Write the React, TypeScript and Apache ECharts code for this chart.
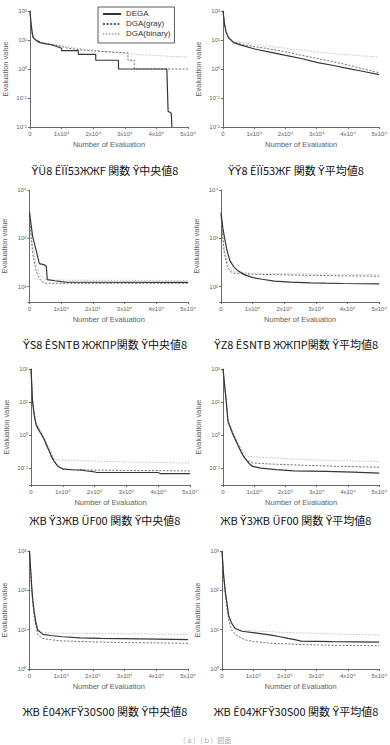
import React, { useEffect, useRef } from "react";
import * as echarts from "echarts";

// Series values: [evaluations, best evaluation value]
const SERIES_NAMES = ["DEGA", "DGA(gray)", "DGA(binary)"];

const p1Dega = [[0,100],[300,40],[700,18],[1000,12],[2000,9.5],[3200,8.1],[5000,7.4],[6300,7],[8000,6.2],[10000,5.2],[10000,4.3],[15300,4.3],[15300,3.2],[20800,3.2],[20800,2.0],[28000,2.0],[28000,1.0],[43300,1.0],[43700,0.035],[44700,0.03],[44900,0.01]];
const p1Gray = [[0,100],[300,35],[700,16],[1000,12.5],[2000,10],[4000,8],[7000,7],[10000,6],[12000,5.2],[16000,4.6],[20000,4.2],[26000,3.8],[31000,3.6],[31000,2.0],[33000,2.0],[33000,1.0],[50000,1.0]];
const p1Binary = [[0,100],[300,38],[700,17],[1000,13],[2000,10],[4000,8],[7000,7],[10000,6.2],[15000,5.2],[20000,4.5],[25000,3.9],[30000,3.4],[35000,3.1],[40000,2.9],[45000,2.7],[50000,2.6]];

const p2Dega = [[0,100],[500,35],[1000,18],[1800,11.7],[3400,8.1],[6000,6.5],[10200,4.9],[15000,3.8],[19700,3.0],[25000,2.3],[30300,1.66],[35000,1.35],[39800,1.05],[45000,0.82],[50000,0.64]];
const p2Gray = [[0,100],[500,36],[1000,19],[1800,12],[3400,8.6],[6000,7],[10200,5.9],[15000,4.9],[19700,4.0],[25000,3.0],[30300,2.3],[35000,1.8],[39800,1.4],[45000,1.0],[50000,0.74]];
const p2Binary = [[0,100],[500,37],[1000,20],[1800,12.5],[3400,9],[6000,8],[10000,7],[15000,6],[20000,5.2],[25000,4.5],[30000,3.9],[35000,3.4],[40000,3.1],[45000,2.8],[50000,2.6]];

const p3Dega = [[0,3500],[600,1700],[1000,1100],[2100,560],[3100,300],[4500,285],[5300,265],[5600,140],[8000,132],[10000,127],[12000,123],[50000,122]];
const p3Gray = [[0,3000],[500,1100],[1000,500],[2000,220],[3000,150],[4000,125],[5000,118],[8000,117],[50000,117]];
const p3Binary = [[0,3200],[500,1400],[1000,700],[2000,300],[3000,190],[4000,150],[5000,140],[8000,137],[20000,135],[50000,134]];

const p4Dega = [[0,3400],[600,1600],[1250,920],[2000,530],[2800,345],[4000,260],[5400,212],[7500,175],[10100,153],[13000,142],[16900,130],[22000,124],[28300,120],[33000,118],[38700,116],[50000,114]];
const p4Gray = [[0,3000],[500,1100],[1000,520],[2000,260],[3000,205],[4000,190],[6000,185],[10000,180],[20000,175],[30000,170],[40000,167],[50000,164]];
const p4Binary = [[0,3200],[500,1300],[1000,650],[2000,320],[3000,230],[4000,205],[6000,195],[10000,190],[20000,185],[30000,182],[40000,180],[50000,178]];

const p5Dega = [[0,100],[500,10],[1000,4],[1600,2.0],[2400,1.4],[3100,1.1],[4200,0.7],[5000,0.45],[5800,0.31],[6500,0.21],[7300,0.155],[8500,0.11],[10000,0.093],[13000,0.087],[16300,0.085],[17500,0.08],[18900,0.078],[20500,0.073],[22000,0.072],[40000,0.072],[40800,0.066],[50000,0.066]];
const p5Gray = [[0,100],[500,11],[1000,4.5],[1600,2.2],[3100,1.2],[4200,0.75],[5000,0.5],[6000,0.3],[7000,0.19],[8000,0.13],[9000,0.1],[10000,0.088],[20000,0.085],[30000,0.083],[40000,0.082],[50000,0.08]];
const p5Binary = [[0,100],[500,11.5],[1000,4.8],[1600,2.3],[3100,1.3],[4200,0.8],[5000,0.55],[6000,0.35],[7000,0.22],[7500,0.18],[10000,0.17],[20000,0.16],[30000,0.15],[40000,0.145],[50000,0.14]];

const p6Dega = [[0,100],[1050,10],[1600,2.5],[2500,1.5],[3200,1.0],[4700,0.5],[5800,0.3],[6900,0.2],[8200,0.14],[9500,0.11],[12100,0.098],[17000,0.088],[22600,0.081],[33200,0.078],[41600,0.074],[50000,0.069]];
const p6Gray = [[0,100],[1050,10.5],[1600,2.7],[3200,1.1],[4700,0.55],[6000,0.3],[7000,0.2],[8000,0.16],[9500,0.14],[15000,0.13],[25000,0.12],[35000,0.112],[50000,0.104]];
const p6Binary = [[0,100],[1050,11],[1600,2.9],[3200,1.2],[4700,0.6],[6000,0.35],[7000,0.25],[8000,0.22],[15000,0.2],[25000,0.18],[35000,0.165],[50000,0.155]];

const p7Dega = [[0,1000],[400,300],[730,112],[1000,60],[1450,29],[2000,15],[2600,9.8],[4200,7.6],[6800,7.1],[10400,6.6],[16000,6.2],[22400,6.0],[35000,5.8],[50000,5.6]];
const p7Gray = [[0,1000],[400,250],[730,90],[1450,22],[2600,7.5],[4000,6],[7000,5.5],[10000,5.2],[20000,4.9],[30000,4.7],[40000,4.6],[50000,4.5]];
const p7Binary = [[0,1000],[400,320],[730,120],[1450,32],[2600,10],[4000,8.5],[7000,8.2],[20000,8],[35000,7.8],[50000,7.6]];

const p8Dega = [[0,1000],[500,250],[1050,93],[2100,23],[3000,15],[4200,10.7],[6300,9.1],[10500,8.3],[15700,7.3],[18000,6.7],[21000,6.0],[23100,5.6],[25200,5.1],[35000,4.95],[50000,4.8]];
const p8Gray = [[0,1000],[500,220],[1050,80],[2100,18],[3000,10],[4200,7.5],[7300,5.5],[10000,5],[16000,4.5],[25000,4.2],[35000,4],[50000,3.9]];
const p8Binary = [[0,1000],[500,270],[1050,100],[2100,25],[3000,14],[4200,10.5],[6000,9.8],[12000,9.1],[20000,8.5],[30000,8],[40000,7.6],[50000,7.3]];

// Y-axis ranges per panel
const Y_MIN = [0.01, 0.01, 48, 48, 0.03, 0.03, 1, 1];
const Y_MAX = [100, 100, 10000, 10000, 100, 100, 1000, 1000];

const CAPTIONS = [
  "ŸÜ8 ÊÏÏ53ЖЖF 関数 Ÿ中央値8",
  "ŸŸ8 ÊÏÏ53ЖF 関数 Ÿ平均値8",
  "ŸS8 ÊSNTB ЖЖПP関数 Ÿ中央値8",
  "ŸZ8 ÊSNTB ЖЖПP関数 Ÿ平均値8",
  "ЖB Ÿ3ЖB ÜF00 関数 Ÿ中央値8",
  "ЖB Ÿ3ЖB ÜF00 関数 Ÿ平均値8",
  "ЖB Ê04ЖFŸ30S00 関数 Ÿ中央値8",
  "ЖB Ê04ЖFŸ30S00 関数 Ÿ平均値8",
];
const FOOTER = "（ａ）（ｂ）図面";

const PANEL_DATA = [
  [p1Dega, p1Gray, p1Binary],
  [p2Dega, p2Gray, p2Binary],
  [p3Dega, p3Gray, p3Binary],
  [p4Dega, p4Gray, p4Binary],
  [p5Dega, p5Gray, p5Binary],
  [p6Dega, p6Gray, p6Binary],
  [p7Dega, p7Gray, p7Binary],
  [p8Dega, p8Gray, p8Binary],
];

// Layout of the eight plot areas: [left, top, width, height]
const GRIDS = [
  [30, 11, 158, 116],
  [223, 11, 158, 116],
  [28, 190, 160, 112],
  [221, 190, 160, 112],
  [31, 369, 159, 116],
  [223, 369, 158, 116],
  [28, 551, 160, 118],
  [222, 551, 159, 118],
];
const CAPTION_Y = [170, 170, 344, 344, 520, 520, 711, 711];
const CAPTION_X = [105, 296];

const SUP: Record<string, string> = {
  "0": "⁰", "1": "¹", "2": "²", "3": "³", "4": "⁴",
  "5": "⁵", "6": "⁶", "7": "⁷", "8": "⁸", "9": "⁹", "-": "⁻",
};
const sup = (s: string) => s.split("").map((c) => SUP[c] ?? c).join("");

const AXIS_COLOR = "#6a6a6a";
const TEXT_COLOR = "#606060";
const FONT = "'Liberation Sans', Arial, 'Noto Sans CJK JP', sans-serif";

const LINE_STYLES = [
  { color: "#363636", width: 1.2, type: "solid" as any },
  { color: "#5e5e5e", width: 0.9, type: [2, 1.6] as any },
  { color: "#b4b4b4", width: 0.9, type: [1.4, 1.6] as any },
];

export default function App() {
  const ref = useRef<HTMLDivElement>(null);

  useEffect(() => {
    if (!ref.current) return;
    const chart = echarts.init(ref.current, undefined, { renderer: "svg" });

    const grid = GRIDS.map(([left, top, width, height]) => ({ left, top, width, height }));

    const xAxis = GRIDS.map((_, i) => ({
      type: "value",
      gridIndex: i,
      min: 0,
      max: 50000,
      interval: 10000,
      name: "Number of Evaluation",
      nameLocation: "middle",
      nameGap: 14,
      nameTextStyle: { fontSize: 7.5, color: TEXT_COLOR, fontFamily: FONT },
      axisLine: { show: true, lineStyle: { color: AXIS_COLOR, width: 1 } },
      axisTick: { show: true, length: 2, lineStyle: { color: AXIS_COLOR } },
      splitLine: { show: false },
      axisLabel: {
        fontSize: 6,
        color: TEXT_COLOR,
        fontFamily: FONT,
        margin: 4,
        formatter: (v: number) => (v === 0 ? "0" : `${Math.round(v / 10000)}x10${sup("4")}`),
      },
    }));

    const yAxis = GRIDS.map((_, i) => ({
      type: "log",
      logBase: 10,
      gridIndex: i,
      min: Y_MIN[i],
      max: Y_MAX[i],
      name: "Evaluation value",
      nameLocation: "middle",
      nameGap: 21,
      nameTextStyle: { fontSize: 7.5, color: TEXT_COLOR, fontFamily: FONT },
      axisLine: { show: true, lineStyle: { color: AXIS_COLOR, width: 1 } },
      axisTick: { show: true, length: 2, lineStyle: { color: AXIS_COLOR } },
      splitLine: { show: false },
      axisLabel: {
        fontSize: 6,
        color: TEXT_COLOR,
        fontFamily: FONT,
        margin: 3,
        formatter: (v: number) => {
          const e = Math.log10(v);
          if (Math.abs(e - Math.round(e)) > 0.01) return "";
          return `10${sup(String(Math.round(e)))}`;
        },
      },
    }));

    const series: any[] = [];
    PANEL_DATA.forEach((sets, i) => {
      sets.forEach((data, k) => {
        series.push({
          type: "line",
          name: SERIES_NAMES[k],
          xAxisIndex: i,
          yAxisIndex: i,
          data,
          showSymbol: false,
          symbol: "none",
          z: 5 - k,
          lineStyle: LINE_STYLES[k],
          itemStyle: { color: LINE_STYLES[k].color },
        });
      });
    });

    const graphic: any[] = CAPTIONS.map((text, i) => ({
      type: "text",
      x: CAPTION_X[i % 2],
      y: CAPTION_Y[i],
      style: {
        text,
        fontSize: 11,
        fontFamily: "'Noto Sans CJK JP', 'DejaVu Sans', sans-serif",
        fill: "#111",
        align: "center",
        verticalAlign: "middle",
      },
    }));
    graphic.push({
      type: "text",
      x: 205,
      y: 736,
      style: {
        text: FOOTER,
        fontSize: 7,
        fontFamily: "'Noto Sans CJK JP', sans-serif",
        fill: "#aaa",
        align: "center",
        verticalAlign: "top",
      },
    });

    chart.setOption({
      animation: false,
      backgroundColor: "#fff",
      textStyle: { fontFamily: FONT },
      grid,
      xAxis,
      yAxis,
      series,
      graphic,
      legend: {
        data: SERIES_NAMES,
        orient: "vertical",
        left: 98,
        top: 7,
        padding: [3, 4, 5, 4],
        itemGap: 2,
        itemWidth: 18,
        itemHeight: 8,
        borderColor: "#333",
        borderWidth: 0.8,
        backgroundColor: "#fff",
        selectedMode: false,
        // hide the marker symbol so only the line sample is drawn
        itemStyle: { opacity: 0 },
        textStyle: { fontSize: 8, color: "#333", fontFamily: FONT },
      },
    });

    return () => chart.dispose();
  }, []);

  return (
    <div
      ref={ref}
      style={{ position: "absolute", left: 0, top: 0, width: 390, height: 745, background: "#fff" }}
    />
  );
}
